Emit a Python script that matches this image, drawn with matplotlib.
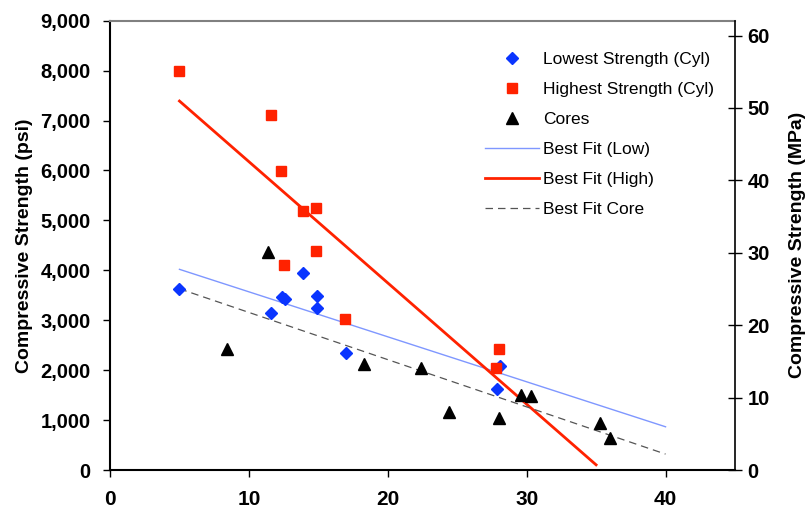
import numpy as np
import matplotlib
matplotlib.use("Agg")
import matplotlib.pyplot as plt

plt.rcParams['font.family'] = ['Liberation Sans', 'DejaVu Sans']

# lowest strength cylinders
low_x = [5.0, 11.6, 12.4, 12.6, 13.9, 14.9, 14.9, 17.0, 28.1, 27.85]
low_y = [3627, 3147, 3467, 3420, 3940, 3487, 3253, 2347, 2087, 1633]

# highest strength cylinders
high_x = [5.0, 11.6, 12.3, 12.5, 13.9, 14.85, 14.85, 16.95, 28.0, 27.8]
high_y = [7990, 7120, 5987, 4107, 5187, 5247, 4390, 3020, 2427, 2047]

# cores
core_x = [8.4, 11.4, 18.3, 22.4, 24.4, 28.0, 29.6, 30.3, 35.3, 36.0]
core_y = [2427, 4367, 2133, 2053, 1167, 1047, 1513, 1487, 947, 633]

# best fit lines (end points)
fit_low_x = [5, 40]
fit_low_y = [4020, 867]
fit_high_x = [5, 35]
fit_high_y = [7390, 105]
fit_core_x = [5, 40]
fit_core_y = [3630, 320]

psi_per_mpa = 145.04

fig = plt.figure(figsize=(8.09, 5.16), dpi=100)
ax = fig.add_axes([0.136, 0.089, 0.7725, 0.871])

l1, = ax.plot(low_x, low_y, 'D', color='#0a35ff', ms=6.5, ls='none',
              label='Lowest Strength (Cyl)', zorder=4)
l2, = ax.plot(high_x, high_y, 's', color='#ff2200', ms=7.5, ls='none',
              label='Highest Strength (Cyl)', zorder=4)
l3, = ax.plot(core_x, core_y, '^', color='black', ms=8.5, ls='none',
              label='Cores', zorder=4)
l4, = ax.plot(fit_low_x, fit_low_y, '-', color='#7f97ff', lw=1.0,
              label='Best Fit (Low)', zorder=3)
l5, = ax.plot(fit_high_x, fit_high_y, '-', color='#ff2200', lw=2.0,
              label='Best Fit (High)', zorder=3)
l6, = ax.plot(fit_core_x, fit_core_y, '--', color='#555555', lw=0.9,
              dashes=(6, 4), label='Best Fit Core', zorder=3)

ax.set_xlim(0, 45)
ax.set_ylim(0, 9000)
ax.set_xticks([0, 10, 20, 30, 40])
ax.set_yticks(np.arange(0, 9001, 1000))
ax.set_yticklabels(['{:,}'.format(v) for v in range(0, 9001, 1000)])
ax.tick_params(axis='both', direction='out', length=5, width=1)
ax.tick_params(axis='x', pad=9, labelsize=15)
ax.tick_params(axis='y', pad=9, labelsize=14.5)
for lab in ax.get_xticklabels() + ax.get_yticklabels():
    lab.set_fontweight('bold')

ax.spines['left'].set_linewidth(1.5)
ax.spines['bottom'].set_linewidth(1.5)
ax.spines['top'].set_color('#808080')
ax.spines['top'].set_linewidth(1.5)
ax.spines['right'].set_visible(False)
ax.set_ylabel('Compressive Strength (psi)', fontsize=14, fontweight='bold',
              labelpad=5)

ax2 = ax.twinx()
ax2.set_ylim(0, 9000 / psi_per_mpa)
ax2.set_yticks(np.arange(0, 61, 10))
ax2.tick_params(axis='y', direction='inout', length=10, width=1,
                labelsize=14.5, pad=4)
for lab in ax2.get_yticklabels():
    lab.set_fontweight('bold')
ax2.spines['top'].set_visible(False)
ax2.spines['left'].set_visible(False)
ax2.spines['bottom'].set_visible(False)
ax2.spines['right'].set_linewidth(1.2)
ax2.set_ylabel('Compressive Strength (MPa)', fontsize=14, fontweight='bold',
               labelpad=14)

fig.legend(handles=[l1, l2, l3, l4, l5, l6], loc='upper left',
           bbox_to_anchor=(0.600, 0.899), frameon=False, fontsize=12.5,
           handlelength=3.1, handletextpad=0.2, labelspacing=0.85,
           borderaxespad=0, borderpad=0)

fig.savefig('out.png', dpi=100)
